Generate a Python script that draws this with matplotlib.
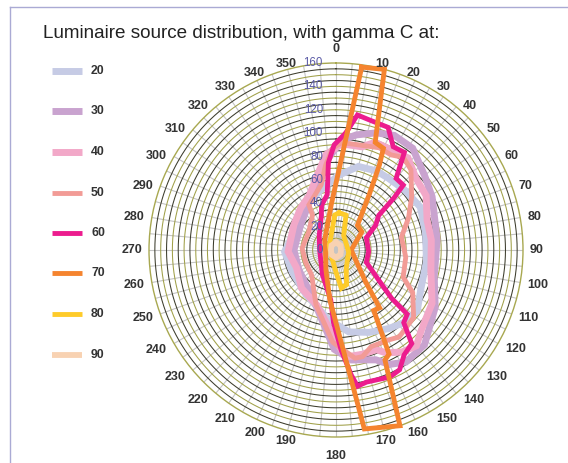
import numpy as np
import matplotlib
matplotlib.use("Agg")
import matplotlib.pyplot as plt
from matplotlib.lines import Line2D
from matplotlib.transforms import offset_copy

plt.rcParams['font.family'] = ['Liberation Sans', 'DejaVu Sans']

# series names (gamma C)
names = ["20", "30", "40", "50", "60", "70", "80", "90"]

# each series: angles in degrees (clockwise from top) and radius values
ang_20 = [2, 15, 27, 36, 49, 63, 79, 97, 115, 127, 137, 146, 158, 171, 186, 214, 243, 268, 299, 326, 346]
val_20 = [64, 74, 76, 76, 78, 81, 78, 78, 80, 87, 85, 81, 76, 71, 60, 46, 42, 44, 39, 46, 53]

ang_30 = [3, 10, 19, 27, 37, 50, 61, 84, 105, 120, 137, 148, 155, 160, 172, 181, 204, 242, 270, 305, 340, 354]
val_30 = [94, 100, 106, 110, 109, 99, 94, 87, 87, 98, 111, 113, 108, 100, 95, 85, 47, 36, 36, 37, 55, 77]

ang_40 = [3, 14, 20, 29, 38, 48, 59, 72, 84, 102, 119, 133, 140, 147, 154, 158, 166, 175, 183, 199, 222, 246, 268, 301, 320, 334, 346, 354]
val_40 = [91, 91, 98, 98, 100, 92, 90, 82, 82, 83, 94, 100, 107, 104, 98, 92, 92, 92, 71, 50, 44, 37, 41, 42, 47, 52, 66, 82]

ang_50 = [3, 12, 23, 30, 36, 43, 55, 66, 79, 88, 96, 112, 119, 131, 144, 150, 160, 166, 170, 174, 182, 200, 224, 248, 273, 304, 326, 329, 347, 353, 358]
val_50 = [92, 92, 95, 94, 98, 94, 79, 68, 57, 58, 60, 62, 75, 88, 92, 89, 88, 94, 94, 88, 79, 50, 30, 28, 29, 28, 36, 45, 57, 73, 87]

ang_60 = [5, 9, 14, 23, 29, 35, 40, 46, 48, 51, 58, 68, 93, 112, 127, 131, 132, 137, 141, 147, 152, 157, 167, 171, 173, 177, 182, 186, 209, 270, 311, 337, 342, 351, 355, 359]
val_60 = [101, 117, 115, 114, 101, 102, 80, 80, 67, 47, 40, 28, 28, 28, 49, 63, 82, 85, 103, 107, 116, 118, 116, 118, 108, 86, 62, 43, 24, 14, 19, 32, 40, 48, 75, 90]

ang_70 = [8, 15, 20, 25, 27, 31, 41, 55, 90, 137, 143, 148, 153, 156, 160, 171, 187, 207, 270, 312, 354]
val_70 = [158, 160, 98, 96, 82, 55, 28, 27, 13, 37, 62, 61, 100, 103, 160, 155, 43, 19, 9, 13, 39]

ang_80 = [5, 16, 28, 99, 151, 163, 172, 180, 225, 305, 347, 358]
val_80 = [32, 31, 14, 11, 18, 31, 33, 19, 6, 7, 16, 30]

ang_90 = [0, 45, 90, 135, 180, 225, 270, 315]
val_90 = [6.5, 5.5, 4.3, 5.5, 6.5, 5.5, 4.3, 5.5]

angles = [ang_20, ang_30, ang_40, ang_50, ang_60, ang_70, ang_80, ang_90]
values = [val_20, val_30, val_40, val_50, val_60, val_70, val_80, val_90]

colors = ["#c6cbe5", "#c9a3cf", "#f2a8c8", "#f29b96", "#ec1c8e", "#f5842f", "#fecb2a", "#f8d2b2"]
widths = [5.0, 5.0, 5.0, 3.5, 3.5, 3.5, 3.5, 4.2]

W, H = 568, 463
fig = plt.figure(figsize=(W / 100, H / 100), dpi=100)
cx, cy, R = 336, 250, 187
ax = fig.add_axes([(cx - R) / W, (H - cy - R) / H, 2 * R / W, 2 * R / H], projection='polar')
ax.set_theta_zero_location('N')
ax.set_theta_direction(-1)
ax.set_ylim(0, 160)
ax.grid(False)
ax.set_xticks([])
ax.set_yticks([])
ax.spines['polar'].set_color('#a8a850')
ax.spines['polar'].set_linewidth(1.0)

# spokes
for a in range(0, 360, 5):
    ax.plot([np.radians(a)] * 2, [0, 160], color='#c4c4c4', lw=0.8, zorder=1)
# rings
full = np.linspace(0, 2 * np.pi, 361)
for r in range(5, 160, 5):
    c = '#a0a048' if r % 10 == 0 else '#3c3c2c'
    ax.plot(full, np.full_like(full, r), color=c, lw=0.75, zorder=1.5)

# theta labels, placed beside the circle like the source chart
for a in range(0, 360, 10):
    t = np.radians(a)
    s, c = np.sin(t), np.cos(t)
    px = cx + R * s
    py = (H - cy) + R * c
    if abs(s) < 0.05:
        ha = 'center'
        if c > 0:
            va, y = 'baseline', py + 11
        else:
            va, y = 'top', py - 13
        x = px
    else:
        ha = 'left' if s > 0 else 'right'
        x = px + 7 * np.sign(s)
        va = 'center'
        y = py + (1.5 * c if c > 0 else -min(7, 12 * abs(c)))
    fig.text(x / W, y / H, str(a), ha=ha, va=va, fontsize=9,
             fontweight='bold', color='#333333')

# radial labels
tr = offset_copy(ax.transData, fig=fig, x=-13, y=0, units='dots')
for v in range(0, 161, 20):
    ax.text(0, v, str(v), transform=tr, ha='right', va='center', fontsize=8.3,
            color='#5a5aa6', zorder=5)

# series
for i in range(len(names)):
    th = np.radians(angles[i] + [angles[i][0]])
    rr = values[i] + [values[i][0]]
    ax.plot(th, rr, color=colors[i], lw=widths[i], zorder=3 + i * 0.1,
            solid_joinstyle='miter', clip_on=False)

# legend
leg_y = [71, 111, 152, 193, 233, 273, 314, 355]
for i in range(len(names)):
    y = 1 - leg_y[i] / H
    fig.add_artist(Line2D([52 / W, 82 / W], [y, y], color=colors[i], lw=widths[i],
                          solid_capstyle='butt'))
    fig.text(91 / W, y, names[i], ha='left', va='center', fontsize=8.8,
             fontweight='bold', color='#333333')

# title
fig.text(43 / W, 1 - 33 / H, "Luminaire source distribution, with gamma C at:",
         ha='left', va='center', fontsize=13.6, color='#222222')

# frame
fig.add_artist(Line2D([10 / W, 1], [1 - 7 / H, 1 - 7 / H], color='#aaaad4', lw=1))
fig.add_artist(Line2D([10 / W, 10 / W], [0, 1 - 7 / H], color='#aaaad4', lw=1))

fig.savefig("out.png", dpi=100)
